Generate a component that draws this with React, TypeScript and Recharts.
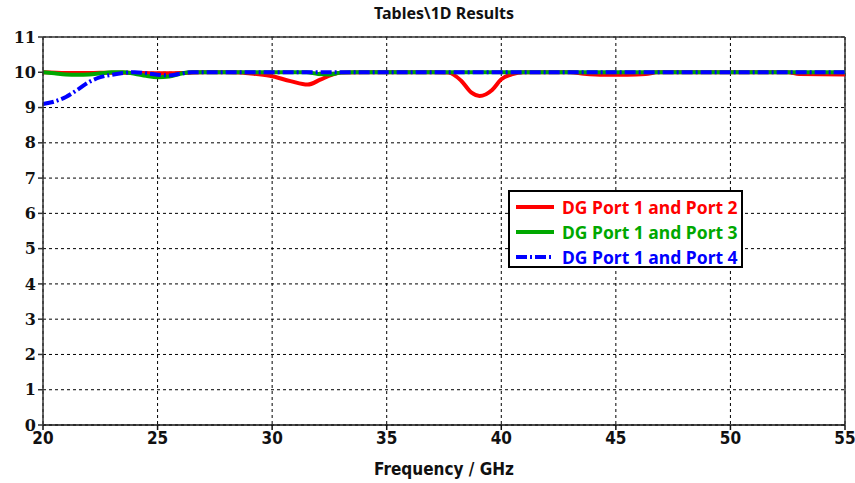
import { CartesianGrid, Line, LineChart, ReferenceLine, XAxis, YAxis } from "recharts";

const xTicks = [20, 25, 30, 35, 40, 45, 50, 55];
const yTicks = [0, 1, 2, 3, 4, 5, 6, 7, 8, 9, 10, 11];

// DG Port 1 and Port 2
const port2Freq = [20, 21, 22, 23, 24, 25, 26, 27, 28, 29.2, 29.9, 30.8, 31.55, 32.1, 32.6, 33, 34, 37, 37.7, 38.25, 38.7, 39.05, 39.6, 40, 40.45, 41, 43, 43.6, 44.5, 45.5, 46.3, 46.8, 52.5, 53, 55];
const port2Val = [10, 9.98, 9.98, 9.99, 9.98, 9.97, 9.98, 10, 10, 9.96, 9.9, 9.75, 9.65, 9.79, 9.93, 9.99, 10, 10, 9.99, 9.76, 9.42, 9.33, 9.5, 9.8, 9.94, 10, 10, 9.96, 9.93, 9.93, 9.95, 10, 10, 9.95, 9.94];

// DG Port 1 and Port 3
const port3Freq = [20, 20.5, 21, 21.5, 22, 22.5, 23, 23.5, 24, 24.5, 25, 25.5, 26, 26.5, 31.5, 32, 32.5, 33, 33.5, 55];
const port3Val = [10, 9.97, 9.94, 9.93, 9.94, 9.97, 10, 10, 9.96, 9.9, 9.86, 9.88, 9.96, 10, 10, 9.95, 9.94, 9.99, 10, 10];

// DG Port 1 and Port 4
const port4Freq = [20, 20.5, 21, 21.5, 22, 22.5, 23, 23.5, 24, 25, 25.5, 26, 26.5, 55];
const port4Val = [9.1, 9.17, 9.3, 9.5, 9.72, 9.86, 9.93, 9.98, 10, 9.93, 9.91, 9.96, 10, 10];

const seriesNames = ["DG Port 1 and Port 2", "DG Port 1 and Port 3", "DG Port 1 and Port 4"];
const seriesColors = ["#ff0000", "#00a800", "#0000ff"];
const dashes = [undefined, undefined, "11 3 2 3"];

const toRows = (freq: number[], vals: number[]) => freq.map((f, i) => ({ f, v: vals[i] }));
const port2 = toRows(port2Freq, port2Val);
const port3 = toRows(port3Freq, port3Val);
const port4 = toRows(port4Freq, port4Val);

const tickFontY = { fontFamily: "'DejaVu Serif', serif", fontWeight: 700, fontSize: 16, fill: "#111" };
const tickFontX = {
  fontFamily: "'DejaVu Sans', sans-serif",
  fontStretch: "condensed",
  fontWeight: 700,
  fontSize: 17,
  fill: "#111",
};

function LegendBox() {
  return (
    <div
      style={{
        position: "absolute",
        left: 508,
        top: 190,
        width: 231,
        height: 74,
        border: "2px solid #000",
        background: "#fff",
        fontFamily: "'Noto Sans', sans-serif",
        fontWeight: 700,
        fontSize: 17.5,
      }}
    >
      {seriesNames.map((name, i) => (
        <div key={name} style={{ position: "absolute", left: 5, top: 2 + i * 25, height: 25, display: "flex", alignItems: "center" }}>
          <svg width={40} height={10} style={{ marginRight: 7 }}>
            <line x1={1} y1={5} x2={39} y2={5} stroke={seriesColors[i]} strokeWidth={4} strokeDasharray={dashes[i]} />
          </svg>
          <span style={{ color: seriesColors[i], whiteSpace: "nowrap" }}>{name}</span>
        </div>
      ))}
    </div>
  );
}

export default function App() {
  return (
    <div style={{ position: "absolute", left: 0, top: 0, width: 855, height: 483, background: "#fff" }}>
      <div
        style={{
          position: "absolute",
          left: 43,
          width: 802,
          top: 2,
          textAlign: "center",
          fontFamily: "'Noto Sans', sans-serif",
          fontWeight: 700,
          fontSize: 16,
          color: "#111",
        }}
      >
        Tables\1D Results
      </div>
      <LineChart width={855} height={483} margin={{ top: 37, right: 10, bottom: 0, left: 0 }}>
        <CartesianGrid stroke="#000" strokeDasharray="3 3" />
        <XAxis
          dataKey="f"
          type="number"
          domain={[20, 55]}
          ticks={xTicks}
          height={58}
          allowDuplicatedCategory={false}
          tick={tickFontX}
          tickSize={5}
          stroke="#111"
          strokeWidth={1.5}
          label={{ value: "Frequency / GHz", position: "insideBottom", offset: 8, style: tickFontX }}
        />
        <YAxis
          type="number"
          domain={[0, 11]}
          ticks={yTicks}
          width={43}
          tick={tickFontY}
          tickSize={5}
          stroke="#333"
          strokeWidth={1.5}
        />
        <ReferenceLine y={11} stroke="#333" strokeWidth={1.5} />
        <ReferenceLine x={55} stroke="#333" strokeWidth={1.5} />
        <Line data={port2} dataKey="v" name={seriesNames[0]} type="monotone" stroke={seriesColors[0]} strokeWidth={4} dot={false} isAnimationActive={false} />
        <Line data={port3} dataKey="v" name={seriesNames[1]} type="monotone" stroke={seriesColors[1]} strokeWidth={4} dot={false} isAnimationActive={false} />
        <Line data={port4} dataKey="v" name={seriesNames[2]} type="monotone" stroke={seriesColors[2]} strokeWidth={4} strokeDasharray={dashes[2]} dot={false} isAnimationActive={false} />
      </LineChart>
      <LegendBox />
    </div>
  );
}
